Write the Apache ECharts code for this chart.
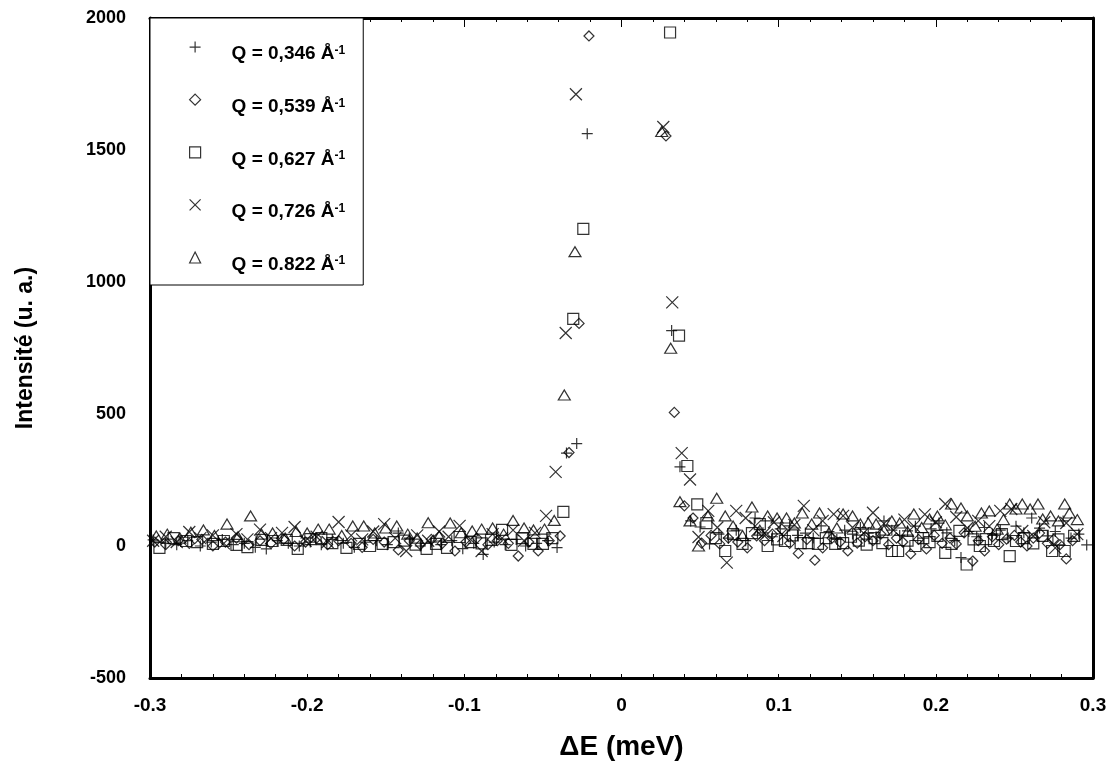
<!DOCTYPE html>
<html><head><meta charset="utf-8">
<script src="https://cdn.jsdelivr.net/npm/echarts@6/dist/echarts.min.js"></script>
<style>html,body{margin:0;padding:0;background:#fff}#c{width:1114px;height:778px}</style>
</head><body><div id="c"></div>
<script>
// ---- Data (ΔE in meV, intensity in arbitrary units) ----
const seriesNames = ['Q = 0,346 Å', 'Q = 0,539 Å', 'Q = 0,627 Å', 'Q = 0,726 Å', 'Q = 0.822 Å'];
const xTickLabels = ['-0.3', '-0.2', '-0.1', '0', '0.1', '0.2', '0.3'];
const yTickLabels = ['-500', '0', '500', '1000', '1500', '2000'];

const xPlus = [-0.298,-0.290,-0.283,-0.276,-0.268,-0.261,-0.254,-0.247,-0.240,-0.233,
  -0.226,-0.219,-0.212,-0.205,-0.198,-0.191,-0.184,-0.177,-0.170,-0.163,
  -0.156,-0.149,-0.142,-0.135,-0.128,-0.121,-0.115,-0.108,-0.101,-0.094,
  -0.088,-0.081,-0.074,-0.067,-0.061,-0.054,-0.047,-0.041,-0.035,-0.0285,-0.0218,
  0.0319,0.0372,
  0.044,0.050,0.056,0.062,0.068,0.073,0.079,0.085,0.090,0.096,
  0.101,0.107,0.112,0.117,0.122,0.127,0.132,0.137,0.142,0.147,
  0.152,0.157,0.162,0.167,0.172,0.177,0.182,0.187,0.192,0.197,
  0.202,0.207,0.212,0.216,0.221,0.226,0.231,0.236,0.241,0.246,
  0.251,0.256,0.261,0.266,0.271,0.276,0.281,0.286,0.291,0.296];
const yPlus = [23,10,5,20,0,15,25,5,10,-5,
  -11,20,10,0,15,5,25,10,-5,15,
  20,5,49,30,0,15,5,20,-10,10,
  -32,15,5,25,0,10,20,-6,352,388,1562,
  816,300,
  95,72,8,45,30,60,20,106,50,35,
  65,76,40,49,30,76,55,25,60,45,
  70,49,35,95,60,40,57,75,30,65,
  87,50,20,-44,55,35,70,45,60,30,
  75,50,106,68,38,55,95,30,45,4];

const xDiamond = [-0.297,-0.290,-0.282,-0.275,-0.267,-0.260,-0.252,-0.245,-0.237,-0.230,
  -0.223,-0.215,-0.208,-0.201,-0.194,-0.187,-0.180,-0.172,-0.165,-0.158,
  -0.151,-0.142,-0.135,-0.128,-0.121,-0.114,-0.106,-0.099,-0.092,-0.085,
  -0.079,-0.072,-0.0657,-0.059,-0.053,-0.046,-0.039,-0.0334,-0.027,-0.0207,
  0.0283,0.0336,0.040,0.0455,0.051,0.057,0.0625,0.068,0.074,0.080,
  0.086,0.091,0.096,0.102,0.107,0.1125,0.118,0.123,0.128,0.134,
  0.139,0.144,0.150,0.155,0.160,0.165,0.170,0.175,0.179,0.184,
  0.189,0.194,0.199,0.204,0.209,0.213,0.218,0.2235,0.227,0.231,
  0.236,0.240,0.245,0.250,0.254,0.258,0.262,0.266,0.271,0.275,
  0.279,0.283,0.287];
const yDiamond = [15,5,20,10,25,0,15,30,5,20,
  10,25,0,15,30,5,20,10,-5,25,
  15,-15,20,5,25,10,-19,15,30,5,
  20,10,-38,15,-19,20,38,354,843,1932,
  1553,506,152,106,11,40,8,30,15,-7,
  38,20,45,64,10,-28,25,-54,-7,30,
  15,-19,11,35,20,45,5,30,15,-30,
  25,-11,40,10,30,8,50,-57,20,-19,
  35,5,26,40,15,0,30,49,10,25,
  5,-49,20];

const xSquare = [-0.294,-0.285,-0.277,-0.270,-0.260,-0.253,-0.245,-0.238,-0.229,-0.222,
  -0.213,-0.206,-0.198,-0.191,-0.184,-0.175,-0.167,-0.160,-0.152,-0.145,
  -0.138,-0.131,-0.124,-0.118,-0.111,-0.103,-0.096,-0.089,-0.083,-0.076,
  -0.070,-0.063,-0.056,-0.050,-0.044,-0.037,-0.0307,-0.0243,
  0.0309,0.0366,0.0419,0.0482,0.054,0.060,0.066,0.071,0.077,0.083,
  0.088,0.093,0.099,0.104,0.109,0.114,0.119,0.125,0.130,0.136,
  0.141,0.146,0.151,0.156,0.161,0.166,0.172,0.176,0.182,0.187,
  0.192,0.196,0.201,0.206,0.210,0.215,0.2196,0.224,0.228,0.232,
  0.237,0.242,0.247,0.251,0.256,0.262,0.268,0.274,0.278,0.282,
  0.288];
const ySquare = [-7,30,19,15,8,19,4,-4,23,19,
  23,-11,26,30,11,-7,8,0,8,15,
  20,5,-11,8,-7,34,15,10,23,61,
  4,30,8,8,30,129,860,1201,
  1945,797,303,158,87,30,-19,45,8,49,
  83,0,25,19,40,11,11,8,30,8,
  11,35,20,5,30,11,-19,-19,20,0,
  30,15,38,-26,8,57,-70,25,0,26,
  19,45,-38,19,30,10,38,-19,25,-19,
  38];

const xCross = [-0.298,-0.290,-0.283,-0.275,-0.268,-0.260,-0.253,-0.245,-0.238,-0.230,
  -0.223,-0.216,-0.208,-0.201,-0.194,-0.187,-0.180,-0.172,-0.165,-0.158,
  -0.151,-0.144,-0.137,-0.130,-0.123,-0.116,-0.110,-0.103,-0.096,-0.089,
  -0.082,-0.076,-0.069,-0.062,-0.055,-0.048,-0.0419,-0.0355,-0.029,
  0.0266,0.0323,0.0383,0.0436,0.049,0.0552,0.061,0.067,0.073,0.079,
  0.085,0.091,0.097,0.103,0.110,0.116,0.122,0.128,0.135,0.141,
  0.147,0.154,0.160,0.167,0.173,0.180,0.186,0.193,0.200,0.206,
  0.213,0.220,0.227,0.234,0.241,0.248,0.255,0.262,0.269,0.276,
  0.283,0.290];
const yCross = [20,35,15,53,30,40,10,45,25,62,
  30,50,72,20,35,15,91,40,25,55,
  83,30,-19,40,20,55,35,76,25,-19,
  45,30,60,20,50,114,281,807,1711,
  1587,923,352,252,34,133,70,-63,133,106,
  75,49,90,38,80,152,60,95,121,114,
  70,49,126,85,60,100,75,120,90,159,
  110,68,95,75,133,140,57,38,90,-7,
  87,45];

const xTriangle = [-0.296,-0.289,-0.281,-0.274,-0.266,-0.259,-0.251,-0.244,-0.236,-0.229,
  -0.222,-0.214,-0.207,-0.200,-0.193,-0.186,-0.178,-0.171,-0.164,-0.157,
  -0.150,-0.143,-0.136,-0.130,-0.123,-0.116,-0.109,-0.102,-0.095,-0.089,
  -0.082,-0.075,-0.069,-0.062,-0.056,-0.049,-0.0428,-0.0364,-0.0296,
  0.0256,0.0313,0.0372,0.0436,0.049,0.055,0.0606,0.066,0.071,0.077,
  0.083,0.088,0.093,0.099,0.105,0.110,0.115,0.121,0.126,0.132,
  0.137,0.141,0.147,0.152,0.157,0.162,0.167,0.172,0.177,0.182,
  0.186,0.191,0.196,0.201,0.206,0.210,0.216,0.220,0.225,0.229,
  0.234,0.239,0.243,0.247,0.251,0.255,0.260,0.265,0.268,0.273,
  0.278,0.282,0.285,0.290];
const yTriangle = [38,45,30,52,61,40,83,35,114,45,
  49,30,55,49,64,64,40,76,76,49,
  68,76,45,30,88,38,87,50,57,64,
  68,45,97,68,61,64,97,572,1115,
  1570,749,168,95,0,114,181,114,76,40,
  148,60,114,106,106,87,125,83,125,50,
  68,121,114,83,87,83,60,95,87,55,
  121,70,102,114,80,159,144,114,75,125,
  133,64,100,159,140,159,140,159,102,114,
  95,159,125,100];

// ---- Chart ----
const FONT = '"Liberation Sans", Arial, Helvetica, sans-serif';
const xs = [xPlus, xDiamond, xSquare, xCross, xTriangle];
const ys = [yPlus, yDiamond, ySquare, yCross, yTriangle];
const symbols = ['path://M5,0L5,10M0,5L10,5', 'diamond', 'rect', 'path://M0,0L10,10M10,0L0,10', 'triangle'];
const sizes = [11, [10, 10], 11, 12, [12, 10]];

const series = seriesNames.map((name, k) => ({
  name: name,
  type: 'scatter',
  data: xs[k].map((x, i) => [x, ys[k][i]]),
  symbol: symbols[k],
  symbolSize: sizes[k],
  itemStyle: { color: 'rgba(0,0,0,0)', borderColor: '#000', borderWidth: 1.2 },
  emphasis: { disabled: true },
  silent: true,
  clip: true
}));

const axisLineStyle = { color: '#000', width: 3 };
const chart = echarts.init(document.getElementById('c'), null, { renderer: 'canvas' });
chart.setOption({
  animation: false,
  backgroundColor: '#fff',
  grid: { left: 150, right: 21, top: 18, bottom: 100, containLabel: false },
  xAxis: [
    {
      type: 'value', min: -0.3, max: 0.3, interval: 0.1, position: 'bottom',
      axisLine: { show: true, onZero: false, lineStyle: axisLineStyle },
      axisTick: { show: true, inside: true, length: 4, lineStyle: { color: '#000', width: 1 } },
      minorTick: { show: true, splitNumber: 5, length: 4, lineStyle: { color: '#000', width: 1 } },
      splitLine: { show: false }, minorSplitLine: { show: false },
      axisLabel: {
        margin: 18, color: '#000', fontSize: 19, fontWeight: 'bold', fontFamily: FONT,
        formatter: v => xTickLabels[Math.round((v + 0.3) / 0.1)]
      },
      name: 'ΔE (meV)', nameLocation: 'middle', nameGap: 55,
      nameTextStyle: { color: '#000', fontSize: 28, fontWeight: 'bold', fontFamily: FONT }
    },
    {
      type: 'value', min: -0.3, max: 0.3, interval: 0.1, position: 'top',
      axisLine: { show: true, onZero: false, lineStyle: axisLineStyle },
      axisTick: { show: true, inside: true, length: 9, lineStyle: { color: '#000', width: 1 } },
      minorTick: { show: true, splitNumber: 5, length: 4, lineStyle: { color: '#000', width: 1 } },
      splitLine: { show: false }, minorSplitLine: { show: false },
      axisLabel: { show: false }
    }
  ],
  yAxis: [
    {
      type: 'value', min: -500, max: 2000, interval: 500, position: 'left',
      axisLine: { show: true, onZero: false, lineStyle: axisLineStyle },
      axisTick: { show: false },
      splitLine: { show: false },
      axisLabel: {
        margin: 24, color: '#000', fontSize: 18, fontWeight: 'bold', fontFamily: FONT,
        formatter: v => yTickLabels[Math.round((v + 500) / 500)]
      },
      name: 'Intensité (u. a.)', nameLocation: 'middle', nameGap: 113,
      nameTextStyle: { color: '#000', fontSize: 23, fontWeight: 'bold', fontFamily: FONT }
    },
    {
      type: 'value', min: -500, max: 2000, interval: 500, position: 'right',
      axisLine: { show: true, onZero: false, lineStyle: axisLineStyle },
      axisTick: { show: false }, splitLine: { show: false }, axisLabel: { show: false }
    }
  ],
  legend: {
    orient: 'vertical', left: 150, top: 18,
    padding: [23, 18, 11, 39],
    itemWidth: 11, itemHeight: 11, itemGap: 30,
    backgroundColor: '#fff', borderColor: '#000', borderWidth: 1, borderRadius: 0,
    selectedMode: false,
    data: seriesNames,
    formatter: n => '{b|' + n + '}{s|-1}',
    itemStyle: { color: 'rgba(0,0,0,0)', borderColor: '#000', borderWidth: 1.2 },
    textStyle: {
      color: '#000', fontFamily: FONT, fontWeight: 'bold', fontSize: 19,
      padding: [14, 0, 0, 26],
      rich: {
        b: { fontSize: 19, fontWeight: 'bold', fontFamily: FONT, color: '#000' },
        s: { fontSize: 12, fontWeight: 'bold', fontFamily: FONT, color: '#000', verticalAlign: 'top' }
      }
    }
  },
  series: series
});
</script>
</body></html>
